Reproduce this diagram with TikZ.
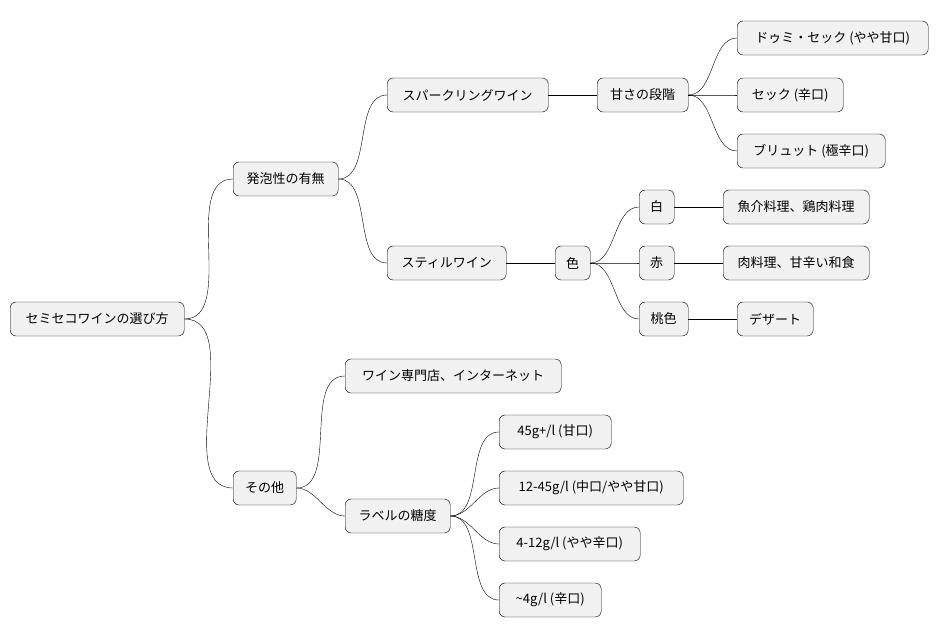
\documentclass[tikz,border=0pt]{standalone}
\usepackage{fontspec}
\setmainfont{Noto Sans CJK JP}
\definecolor{boxfill}{HTML}{F1F1F1}
\def\boxHeight{34}

\begin{document}
\begin{tikzpicture}[x=1pt,y=1pt,
    box/.style={draw, fill=boxfill, rounded corners=6pt, anchor=west,
      minimum height=\boxHeight pt, inner xsep=0pt, font=\fontsize{13}{15}\selectfont},
    link/.style={out=0, in=180, looseness=0.9}]
  \useasboundingbox (0,0) rectangle (938,-640);
  % level 0 and 1
  \node [box, minimum width=174pt] (root) at (10,-319) {セミセコワインの選び方};
  \node [box, minimum width=105pt] (foam) at (233,-179) {発泡性の有無};
  \node [box, minimum width=63pt] (other) at (233,-488) {その他};
  % level 2
  \node [box, minimum width=161pt] (spark) at (387,-95) {スパークリングワイン};
  \node [box, minimum width=119pt] (still) at (387,-263) {スティルワイン};
  \node [box, minimum width=216pt] (shop) at (345,-376) {ワイン専門店、インターネット};
  \node [box, minimum width=105pt] (label) at (345,-516) {ラベルの糖度};
  % level 3
  \node [box, minimum width=91pt] (sweet) at (597,-95) {甘さの段階};
  \node [box, minimum width=35pt] (color) at (555,-263) {色};
  \node [box, minimum width=191pt] (demi) at (737,-38) {ドゥミ・セック (やや甘口)};
  \node [box, minimum width=106pt] (sec) at (737,-95) {セック (辛口)};
  \node [box, minimum width=148pt] (brut) at (737,-151) {ブリュット (極辛口)};
  \node [box, minimum width=35pt] (white) at (639,-207) {白};
  \node [box, minimum width=35pt] (red) at (639,-263) {赤};
  \node [box, minimum width=49pt] (rose) at (639,-319) {桃色};
  \node [box, minimum width=146pt] (fish) at (723,-207) {魚介料理、鶏肉料理};
  \node [box, minimum width=146pt] (meat) at (723,-263) {肉料理、甘辛い和食};
  \node [box, minimum width=76pt] (dessert) at (737,-319) {デザート};
  \node [box, minimum width=112pt] (g45) at (499,-432) {45g+/l (甘口)};
  \node [box, minimum width=184pt] (g12) at (499,-488) {12-45g/l (中口/やや甘口)};
  \node [box, minimum width=141pt] (g4) at (499,-544) {4-12g/l (やや辛口)};
  \node [box, minimum width=102pt] (g0) at (499,-600) {\textasciitilde4g/l (辛口)};
  % connectors
  \draw (root.east) to[link] (foam.west);
  \draw (root.east) to[link] (other.west);
  \draw (foam.east) to[link] (spark.west);
  \draw (foam.east) to[link] (still.west);
  \draw (other.east) to[link] (shop.west);
  \draw (other.east) to[link] (label.west);
  \draw (spark) -- (sweet);
  \draw (still) -- (color);
  \foreach \leaf in {demi, sec, brut}
    \draw (sweet.east) to[link] (\leaf.west);
  \foreach \leaf in {white, red, rose}
    \draw (color.east) to[link] (\leaf.west);
  \draw (white) -- (fish);
  \draw (red) -- (meat);
  \draw (rose) -- (dessert);
  \foreach \leaf in {g45, g12, g4, g0}
    \draw (label.east) to[link] (\leaf.west);
\end{tikzpicture}
\end{document}
